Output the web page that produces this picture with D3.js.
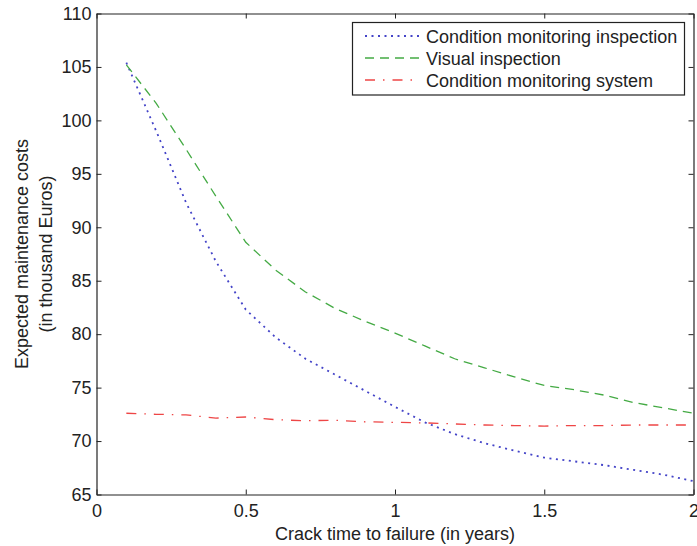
<!DOCTYPE html>
<html>
<head>
<meta charset="utf-8">
<script src="https://cdn.jsdelivr.net/npm/d3@7"></script>
<style>
  html, body { margin: 0; padding: 0; background: #fff; }
  svg { display: block; font-family: "Liberation Sans", Arial, Helvetica, sans-serif; }
</style>
</head>
<body>
<svg id="chart" width="697" height="546"></svg>
<script>
// ---- data ----
const crackTime = [0.1, 0.2, 0.3, 0.4, 0.5, 0.6, 0.7, 0.8, 0.9, 1.0,
                   1.1, 1.2, 1.3, 1.4, 1.5, 1.6, 1.7, 1.8, 1.9, 2.0];
const cmInspection = [105.4, 99.0, 92.3, 86.8, 82.3, 79.7, 77.7, 76.2, 74.7, 73.2,
                      71.75, 70.65, 69.8, 69.1, 68.45, 68.1, 67.75, 67.3, 66.85, 66.25];
const visualInspection = [105.2, 101.6, 97.3, 92.9, 88.6, 86.0, 83.95, 82.4, 81.2, 80.1,
                          78.9, 77.7, 76.85, 76.0, 75.2, 74.8, 74.3, 73.6, 73.1, 72.6];
const cmSystem = [72.6, 72.5, 72.45, 72.15, 72.25, 72.0, 71.9, 71.95, 71.8, 71.75,
                  71.7, 71.6, 71.5, 71.45, 71.4, 71.45, 71.45, 71.5, 71.5, 71.5];
const seriesNames = ["Condition monitoring inspection", "Visual inspection", "Condition monitoring system"];
const xTicks = [0, 0.5, 1, 1.5, 2];
const xTickLabels = ["0", "0.5", "1", "1.5", "2"];
const yTicks = [65, 70, 75, 80, 85, 90, 95, 100, 105, 110];
const xLabel = "Crack time to failure (in years)";
const yLabelLines = ["Expected maintenance costs", "(in thousand Euros)"];

// ---- layout ----
const svg = d3.select("#chart");
const X0 = 96.5, X1 = 693.5, Y0 = 13.5, Y1 = 494.5;
const x = d3.scaleLinear().domain([0, 2]).range([X0, X1]);
const y = d3.scaleLinear().domain([65, 110]).range([Y1, Y0]);
const FS = 18;

const styles = [
  { color: "#4444c8", dash: "2,4.5", width: 1.8 },
  { color: "#44aa44", dash: "9,6", width: 1.3 },
  { color: "#ee4646", dash: "10,8,1.5,8", width: 1.3 }
];
const allSeries = [cmInspection, visualInspection, cmSystem];

// axes
const fmt = (d) => xTickLabels[xTicks.indexOf(d)];
const axB = svg.append("g").attr("transform", `translate(0,${Y1})`)
  .call(d3.axisBottom(x).tickValues(xTicks).tickFormat(fmt).tickSizeInner(-5).tickSizeOuter(0).tickPadding(10));
const axT = svg.append("g").attr("transform", `translate(0,${Y0})`)
  .call(d3.axisTop(x).tickValues(xTicks).tickFormat("").tickSizeInner(-5).tickSizeOuter(0));
const axL = svg.append("g").attr("transform", `translate(${X0},0)`)
  .call(d3.axisLeft(y).tickValues(yTicks).tickFormat(d3.format("d")).tickSizeInner(-5).tickSizeOuter(0).tickPadding(5));
const axR = svg.append("g").attr("transform", `translate(${X1},0)`)
  .call(d3.axisRight(y).tickValues(yTicks).tickFormat("").tickSizeInner(-5).tickSizeOuter(0));
[axB, axT, axL, axR].forEach(g => {
  g.selectAll("path.domain").attr("stroke", "#222").attr("stroke-width", 1.2);
  g.selectAll(".tick line").attr("stroke", "#222").attr("stroke-width", 1);
  g.selectAll("text").attr("font-size", FS).attr("fill", "#222")
    .attr("font-family", "'Liberation Sans', Arial, Helvetica, sans-serif");
});

// lines
const line = d3.line().x((d, i) => x(crackTime[i])).y(d => y(d));
allSeries.forEach((s, k) => {
  svg.append("path").datum(s)
    .attr("d", line)
    .attr("fill", "none")
    .attr("stroke", styles[k].color)
    .attr("stroke-width", styles[k].width)
    .attr("stroke-dasharray", styles[k].dash);
});

// axis labels
svg.append("text").attr("x", (X0 + X1) / 2).attr("y", 540)
  .attr("text-anchor", "middle").attr("font-size", FS).attr("fill", "#222").text(xLabel);
yLabelLines.forEach((t, i) => {
  svg.append("text")
    .attr("transform", `translate(${28 + i * 24},${(Y0 + Y1) / 2}) rotate(-90)`)
    .attr("text-anchor", "middle").attr("font-size", FS).attr("fill", "#222").text(t);
});

// legend
const lg = svg.append("g");
lg.append("rect").attr("x", 352.5).attr("y", 22.5).attr("width", 332).attr("height", 72.5)
  .attr("fill", "#fff").attr("stroke", "#222").attr("stroke-width", 1.2);
seriesNames.forEach((name, k) => {
  const cy = 36 + k * 22;
  lg.append("line").attr("x1", 365).attr("x2", 419).attr("y1", cy).attr("y2", cy)
    .attr("stroke", styles[k].color).attr("stroke-width", styles[k].width)
    .attr("stroke-dasharray", styles[k].dash);
  lg.append("text").attr("x", 426).attr("y", cy + 6.5)
    .attr("font-size", FS).attr("fill", "#222").text(name);
});
</script>
</body>
</html>
